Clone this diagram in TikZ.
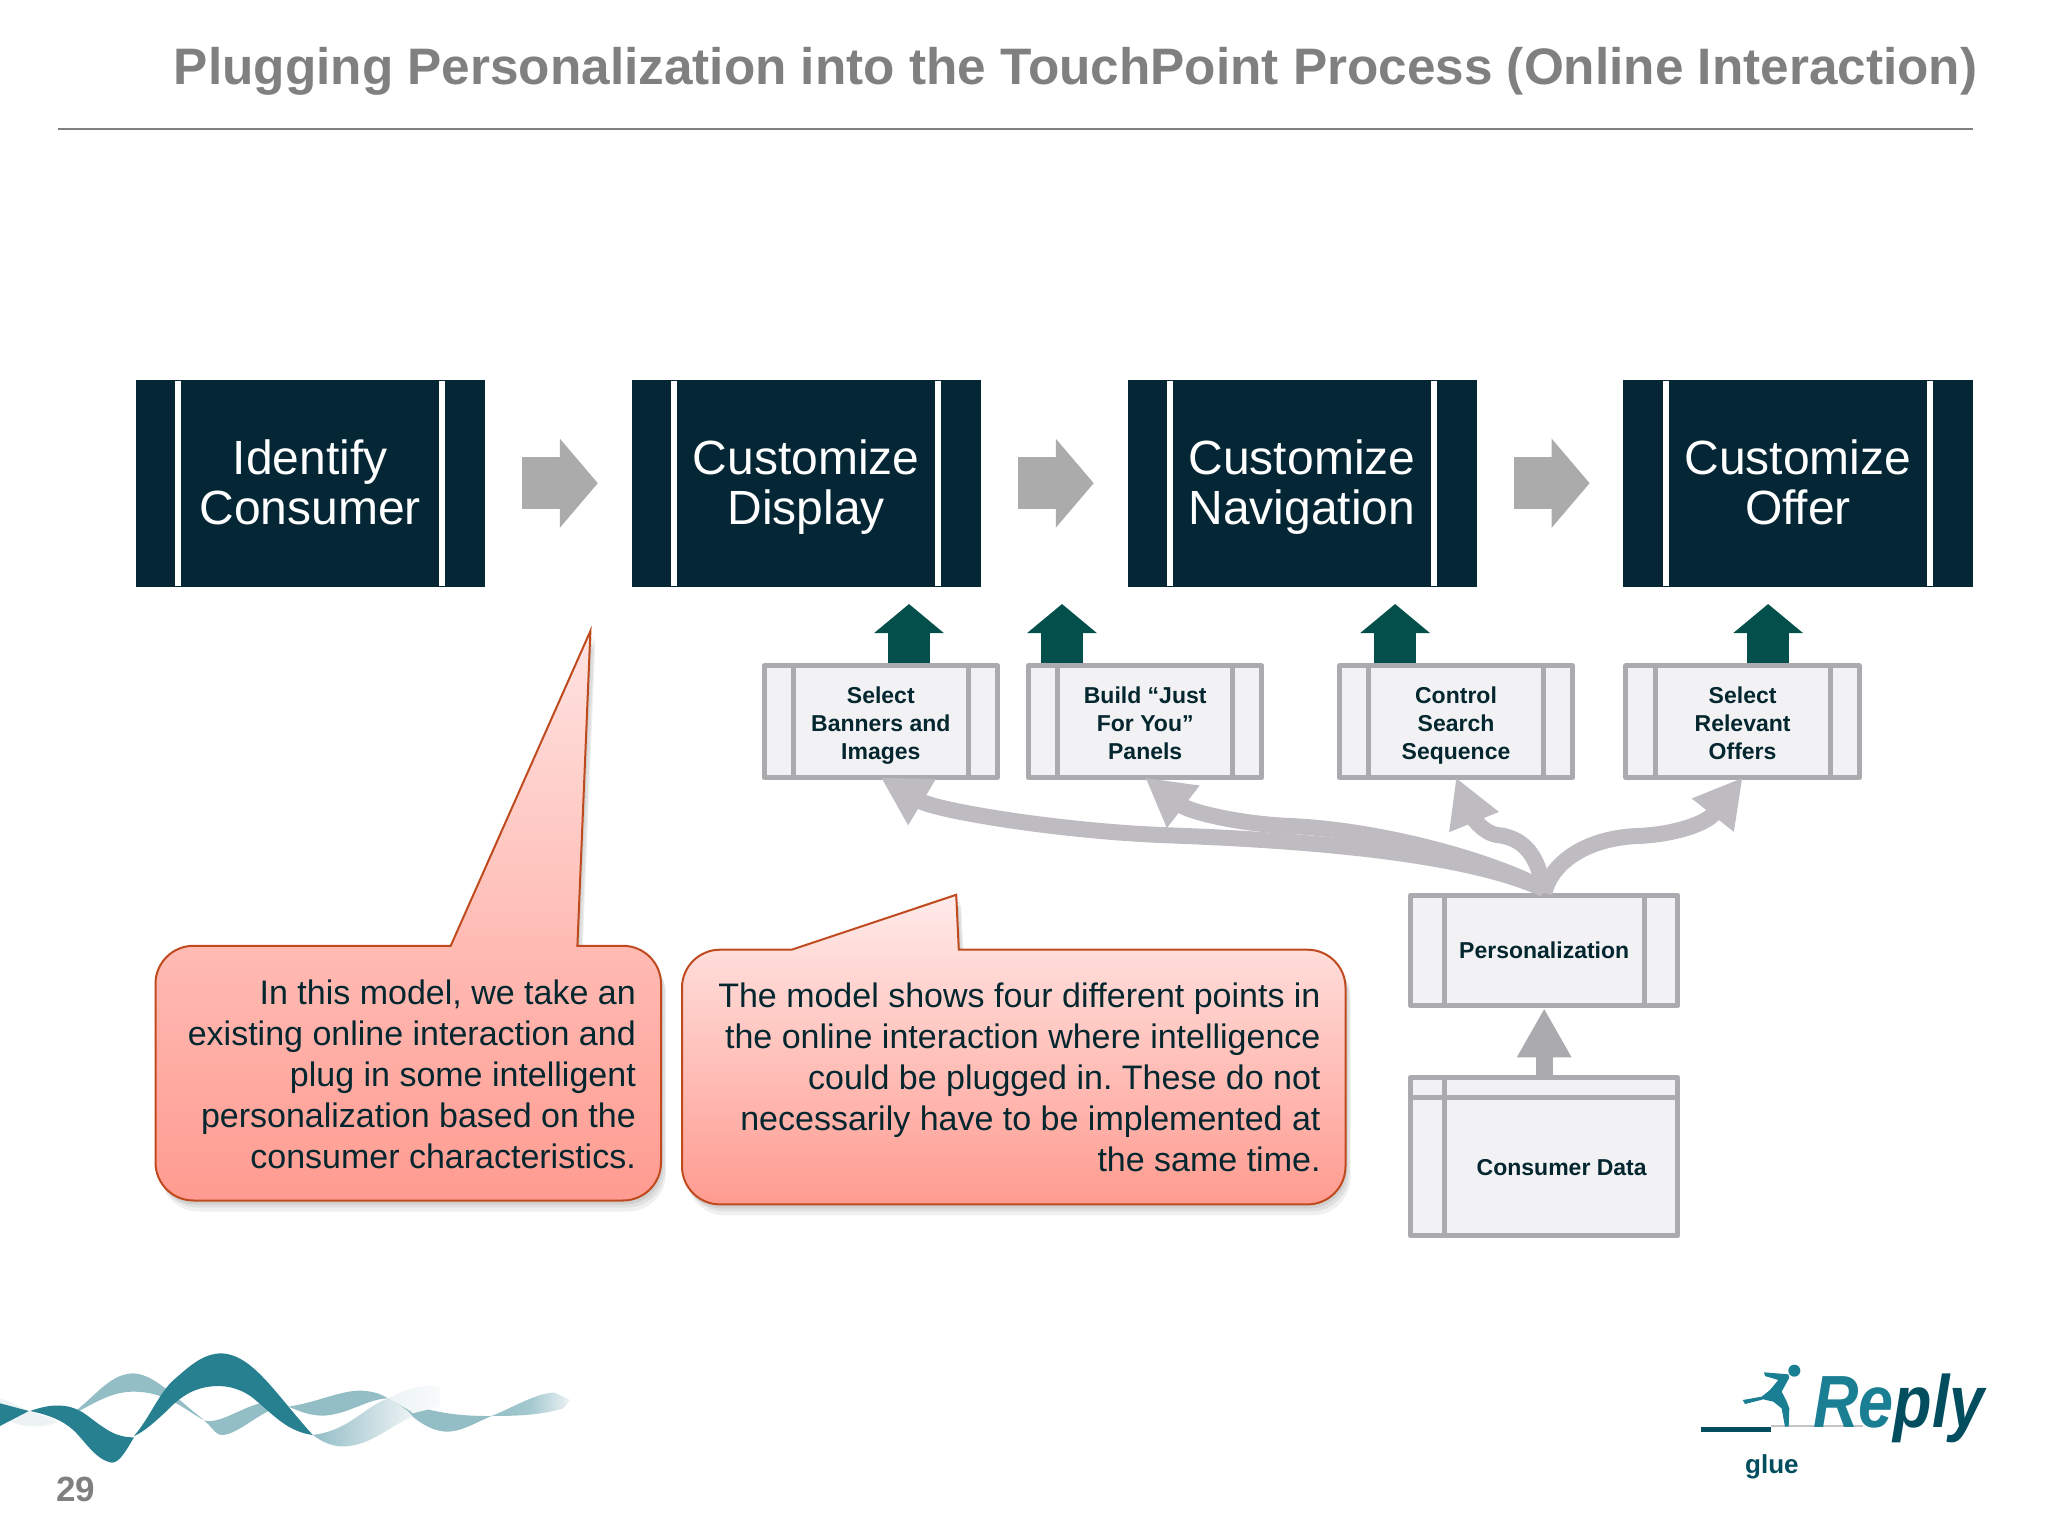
\documentclass[tikz,border=0pt]{standalone}
\usepackage{fontspec}
\setmainfont{Liberation Sans}
\usepackage{xcolor}
\usetikzlibrary{positioning,calc,arrows.meta,shadows}
\definecolor{stepnavy}{HTML}{052735}
\definecolor{arrowgray}{HTML}{ABABAB}
\definecolor{boxgray}{HTML}{ABABAF}
\definecolor{boxfill}{HTML}{F2F2F5}
\definecolor{flowgray}{HTML}{BEBCC0}
\definecolor{feedgreen}{HTML}{024F4C}
\definecolor{titlegray}{HTML}{808080}
\definecolor{inktext}{HTML}{03262F}
\definecolor{callouttop}{HTML}{FFE3E1}
\definecolor{calloutlow}{HTML}{FF9B90}
\definecolor{calloutedge}{HTML}{BF4A1E}
\definecolor{wavedark}{HTML}{27808F}
\definecolor{wavelight}{HTML}{93BEC6}
\definecolor{wavepale}{HTML}{EDF3F5}
\definecolor{replyteal}{HTML}{1A7F93}
\definecolor{replydark}{HTML}{024D5E}
\tikzset{
	mainstep/.style={draw=stepnavy,fill=stepnavy,text=white,line width=0.5pt,outer sep=0pt,inner sep=0pt,
		minimum width=348.5pt,minimum height=206pt,align=center,
		font=\fontsize{48}{50}\selectfont,
		execute at begin node={\rule{0pt}{93pt}},execute at end node={\rule[-11pt]{0pt}{11pt}},
		path picture={
			\draw[white,line width=6pt] ([xshift=42pt]path picture bounding box.north west) -- ([xshift=42pt]path picture bounding box.south west);
			\draw[white,line width=6pt] ([xshift=-42pt]path picture bounding box.north east) -- ([xshift=-42pt]path picture bounding box.south east);
		}},
	graybox/.style={draw=boxgray,fill=boxfill,line width=5pt,line join=round,outer sep=0pt,inner sep=0pt,text=inktext,align=center,
		font=\fontsize{23}{28}\selectfont\bfseries},
	procbox/.style={graybox,
		path picture={
			\draw[boxgray,line width=5pt] ([xshift=#1]path picture bounding box.north west) -- ([xshift=#1]path picture bounding box.south west);
			\draw[boxgray,line width=5pt] ([xshift=-#1]path picture bounding box.north east) -- ([xshift=-#1]path picture bounding box.south east);
		}},
	smallbox/.style={procbox=29.2pt,minimum width=233.4pt,minimum height=111.7pt,
		execute at begin node={\rule{0pt}{81pt}},execute at end node={\rule[-6pt]{0pt}{6pt}}},
	steparrow/.style={draw=arrowgray,line width=52pt,-{Triangle[width=87pt,length=38pt]},shorten <=38pt,shorten >=34pt},
	feedarrow/.style={draw=feedgreen,line width=42pt,-{Triangle[width=68pt,length=29pt]},shorten <=2.5pt,shorten >=17.8pt},
	flowarrow/.style={draw=flowgray,line width=16pt,-{Triangle[width=50pt,length=48pt]}},
	dataarrow/.style={draw=boxgray,line width=17pt,-{Triangle[width=51pt,length=49pt]},shorten >=2.5pt},
	calloutbox/.style={draw=calloutedge,line width=2pt,top color=callouttop,bottom color=calloutlow,
		drop shadow={opacity=0.16,shadow xshift=2pt,shadow yshift=-4pt},
		drop shadow={opacity=0.14,shadow xshift=4pt,shadow yshift=-7pt},
		drop shadow={opacity=0.12,shadow xshift=5pt,shadow yshift=-11pt}},
	calloutlabel/.style={inner sep=0pt,align=right,text=inktext,font=\fontsize{34}{41}\selectfont\frenchspacing}
}

\begin{document}
\begin{tikzpicture}[x=1pt,y=-1pt]
	\useasboundingbox (0,0) rectangle (2048,1536);
	
	\node[anchor=west,inner sep=0pt,text=titlegray,font=\fontsize{51.3}{60}\selectfont\bfseries] (title) at (173.7,71) {Plugging Personalization into the TouchPoint Process (Online Interaction)};
	\draw[titlegray,line width=2pt] (57.5,129.3) -- (1972.5,129.3);
	
	\node[mainstep] (ident) at (310.2,483.2) {Identify\\Consumer};
	\node[mainstep] (disp) [right=147.4pt of ident] {Customize\\Display};
	\node[mainstep] (nav) [right=147.4pt of disp] {Customize\\Navigation};
	\node[mainstep] (offer) [right=147.4pt of nav] {Customize\\Offer};
	
	\draw[steparrow] (ident) -- (disp);
	\draw[steparrow] (disp) -- (nav);
	\draw[steparrow] (nav) -- (offer);
	
	\node[smallbox] (banners) at (880.8,721.7) {Select\\Banners and\\Images};
	\node[smallbox] (panels) [right=31pt of banners] {Build “Just\\For You”\\Panels};
	\node[smallbox] (search) [right=77.4pt of panels] {Control\\Search\\Sequence};
	\node[smallbox] (offers) [right=53.2pt of search] {Select\\Relevant\\Offers};
	
	\draw[feedarrow] ([xshift=28.2pt]banners.north) -- ([xshift=28.2pt]banners.north |- disp.south);
	\draw[feedarrow] ([xshift=-83.2pt]panels.north) -- ([xshift=-83.2pt]panels.north |- disp.south);
	\draw[feedarrow] ([xshift=-60.9pt]search.north) -- ([xshift=-60.9pt]search.north |- disp.south);
	\draw[feedarrow] ([xshift=25.5pt]offers.north) -- ([xshift=25.5pt]offers.north |- disp.south);
	
	\node[procbox=33.5pt,minimum width=266.7pt,minimum height=110.6pt] (pers) at (1544.2,950.5) {Personalization};
	\node[graybox,minimum width=266.7pt,minimum height=158.3pt] (data) [below=71.7pt of pers] {\hspace*{35pt}\rule{0pt}{37pt}Consumer Data};
	\draw[boxgray,line width=5pt] ([xshift=33.5pt]data.north west) -- ([xshift=33.5pt]data.south west);
	\draw[boxgray,line width=5pt] ([yshift=-20pt]data.north west) -- ([yshift=-20pt]data.north east);
	
	\draw[dataarrow] (data) -- (pers);
	\draw[flowarrow] ([yshift=6pt]pers.north) .. controls (1480,860) and (1360,842) .. (1160,835) .. controls (1050,830) and (935,810) .. (banners.south);
	\draw[flowarrow] ([yshift=6pt]pers.north) .. controls (1490,860) and (1380,830) .. (1290,826) .. controls (1240,824) and (1190,812) .. (panels.south);
	\draw[flowarrow] ([yshift=2pt]pers.north) .. controls (1540,865) and (1530,838) .. (1497,835) .. controls (1480,832) and (1470,812) .. (search.south);
	\draw[flowarrow] ([yshift=2pt]pers.north) .. controls (1552,860) and (1590,838) .. (1637,836) .. controls (1670,835) and (1705,825) .. (offers.south);
	
	\draw[calloutbox] (620,945.8) [rounded corners=38pt] -- (661,945.8) -- (661,1200.5) -- (155.5,1200.5) -- (155.5,945.8) [sharp corners] -- (450.7,945.8) -- (590.4,631) -- (577.4,945.8) -- cycle;
	\node[calloutlabel,anchor=east] (modeltext) at (636,1074.4) {In this model, we take an\\existing online interaction and\\plug in some intelligent\\personalization based on the\\consumer characteristics.};
	\draw[calloutbox,top color=callouttop!70!white] (1100,949.7) [rounded corners=38pt] -- (1345.5,949.7) -- (1345.5,1204.4) -- (682,1204.4) -- (682,949.7) [sharp corners] -- (791.6,949.7) -- (956.2,894.8) -- (958.8,949.7) -- cycle;
	\node[calloutlabel,anchor=east] (pointstext) at (1320.7,1077.7) {The model shows four different points in\\the online interaction where intelligence\\could be plugged in. These do not\\necessarily have to be implemented at\\the same time.};
	
	% wave
	\begin{scope}[x=0.4437pt,y=-0.3333pt,shift={(0pt,-1300pt)}]
		\fill[wavepale] (0,296) .. controls (25,305) and (50,322) .. (65,333) .. controls (90,345) and (115,352) .. (130,365) .. controls (100,385) and (50,385) .. (20,360) -- (0,345) -- cycle;
		\fill[wavelight] (175,328) .. controls (220,280) and (250,222) .. (300,220) .. controls (350,222) and (400,300) .. (460,360) .. controls (420,335) and (380,275) .. (300,275) .. controls (250,275) and (210,312) .. (175,335) -- cycle;
		\fill[wavelight] (460,362) .. controls (500,372) and (540,322) .. (600,305) -- (610,330) .. controls (570,355) and (530,405) .. (500,405) .. controls (485,405) and (475,375) .. (460,362) -- cycle;
		\fill[wavelight] (650,320) .. controls (720,305) and (770,270) .. (815,272) .. controls (850,275) and (860,285) .. (875,295) .. controls (830,295) and (780,347) .. (725,347) .. controls (690,345) and (670,330) .. (650,320) -- cycle;
		\fill[wavelight] (875,295) .. controls (930,310) and (980,350) .. (1108,348) .. controls (1060,375) and (1040,395) .. (1005,395) .. controls (950,390) and (920,330) .. (875,295) -- cycle;
		\shade[left color=wavelight,right color=wavepale,middle color=wavelight!80!wavepale] (1108,348) .. controls (1160,320) and (1210,278) .. (1250,278) -- (1285,300) -- (1270,325) .. controls (1220,345) and (1170,348) .. (1108,348) -- cycle;
		\shade[left color=wavepale,right color=wavepale!40!white] (875,295) .. controls (910,270) and (950,250) .. (990,262) -- (990,320) -- (930,340) .. controls (925,330) and (900,315) .. (875,295) -- cycle;
		\shade[left color=wavelight,right color=wavepale] (705,405) .. controls (740,440) and (770,445) .. (800,435) .. controls (850,420) and (890,370) .. (930,350) .. controls (920,330) and (895,310) .. (875,295) .. controls (820,320) and (790,390) .. (705,405) -- cycle;
		\fill[wavedark] (0,310) -- (65,333) -- (0,378) -- cycle;
		\fill[wavedark] (68,333) .. controls (100,318) and (150,300) .. (195,345) .. controls (240,390) and (260,412) .. (302,412) .. controls (285,450) and (270,488) .. (252,488) .. controls (215,480) and (190,420) .. (165,390) .. controls (140,360) and (110,345) .. (68,333) -- cycle;
		\fill[wavedark] (302,408) .. controls (340,350) and (360,270) .. (400,230) .. controls (430,195) and (460,160) .. (500,160) .. controls (570,165) and (620,280) .. (705,405) .. controls (650,395) and (620,350) .. (580,305) .. controls (560,280) and (530,258) .. (490,258) .. controls (430,260) and (400,300) .. (370,340) .. controls (345,370) and (325,395) .. (302,408) -- cycle;
	\end{scope}
	\node[anchor=base west,inner sep=0pt,text=gray,font=\fontsize{35}{36}\selectfont\bfseries] (pageno) at (56,1501) {29};
	
	% logo
	\begin{scope}[x=0.3333pt,y=-0.3333pt,shift={(1650pt,-1340pt)}]
		\fill[boxgray!70] (362,256) rectangle (640,261);
		\fill[replydark] (153,260) rectangle (362,275);
		\fill[replyteal] (433,92) circle[radius=6pt];
		\fill[replyteal] (342,97) -- (415,103) -- (418,113) -- (395,155) -- (408,180) -- (418,205) -- (416,260) -- (405,260) -- (395,205) -- (370,185) -- (340,178) -- (285,192) -- (278,180) -- (335,170) -- (360,150) -- (385,120) -- (345,108) -- cycle;
	\end{scope}
	\node[anchor=base west,inner sep=0pt,xscale=0.85,font=\fontsize{74}{74}\selectfont\bfseries\itshape] (reply) at (1813,1427) {{\color{replyteal}Re}{\color{replydark}ply}};
	\node[anchor=base west,inner sep=0pt,text=replydark,font=\fontsize{26}{26}\selectfont\bfseries] (glue) at (1745,1473) {glue};
\end{tikzpicture}
\end{document}
